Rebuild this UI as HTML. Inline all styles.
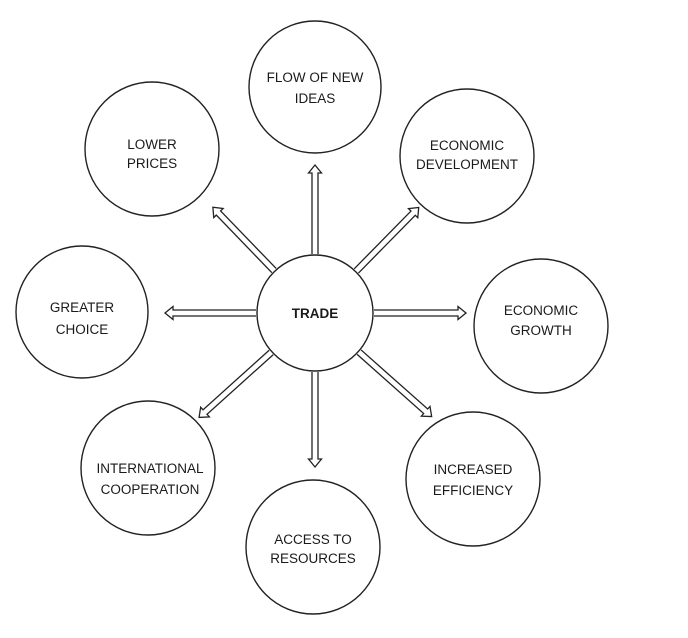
<!DOCTYPE html>
<html><head><meta charset="utf-8"><style>
html,body{margin:0;padding:0;background:#fff;}
svg{display:block;}
text{font-family:"Liberation Sans","DejaVu Sans",sans-serif;font-size:13.5px;fill:#1a1a1a;text-anchor:middle;}
</style></head><body>
<svg width="688" height="638" viewBox="0 0 688 638" xmlns="http://www.w3.org/2000/svg">
<g fill="#fff" stroke="#222" stroke-width="1.4">
<circle cx="315" cy="87" r="66"/>
<circle cx="152" cy="149" r="67"/>
<circle cx="467" cy="156" r="67"/>
<circle cx="82" cy="312" r="66"/>
<circle cx="541" cy="326" r="67"/>
<circle cx="148" cy="468" r="67"/>
<circle cx="313" cy="547" r="67"/>
<circle cx="473" cy="479" r="67"/>
<circle cx="315" cy="313" r="58"/>
</g>
<g fill="#fff" stroke="#222" stroke-width="1.3" stroke-linejoin="miter">
<path transform="translate(315,313) rotate(-90)" d="M59,-3 L140,-3 L140,-6.5 L148,0 L140,6.5 L140,3 L59,3"/>
<path transform="translate(315,313) rotate(0)" d="M59,-3 L143,-3 L143,-6.5 L151,0 L143,6.5 L143,3 L59,3"/>
<path transform="translate(315,313) rotate(90)" d="M59,-3 L146,-3 L146,-6.5 L154,0 L146,6.5 L146,3 L59,3"/>
<path transform="translate(315,313) rotate(180)" d="M59,-3 L142,-3 L142,-6.5 L150,0 L142,6.5 L142,3 L59,3"/>
<path transform="translate(315,313) rotate(226)" d="M59,-3 L139,-3 L139,-6.5 L147,0 L139,6.5 L139,3 L59,3"/>
<path transform="translate(315,313) rotate(-45.5)" d="M59,-3 L140,-3 L140,-6.5 L148,0 L140,6.5 L140,3 L59,3"/>
<path transform="translate(315,313) rotate(41.6)" d="M59,-3 L148,-3 L148,-6.5 L156,0 L148,6.5 L148,3 L59,3"/>
<path transform="translate(315,313) rotate(138)" d="M59,-3 L148,-3 L148,-6.5 L156,0 L148,6.5 L148,3 L59,3"/>
</g>
<text x="315" y="318" style="font-weight:bold">TRADE</text>
<text x="315" y="82">FLOW OF NEW</text><text x="315" y="103">IDEAS</text>
<text x="152" y="149">LOWER</text><text x="152" y="168">PRICES</text>
<text x="467" y="150">ECONOMIC</text><text x="467" y="169">DEVELOPMENT</text>
<text x="82" y="312">GREATER</text><text x="82" y="334">CHOICE</text>
<text x="541" y="315">ECONOMIC</text><text x="541" y="335">GROWTH</text>
<text x="150" y="473">INTERNATIONAL</text><text x="150" y="494">COOPERATION</text>
<text x="313" y="544">ACCESS TO</text><text x="313" y="563">RESOURCES</text>
<text x="473" y="474">INCREASED</text><text x="473" y="495">EFFICIENCY</text>
</svg>
</body></html>
